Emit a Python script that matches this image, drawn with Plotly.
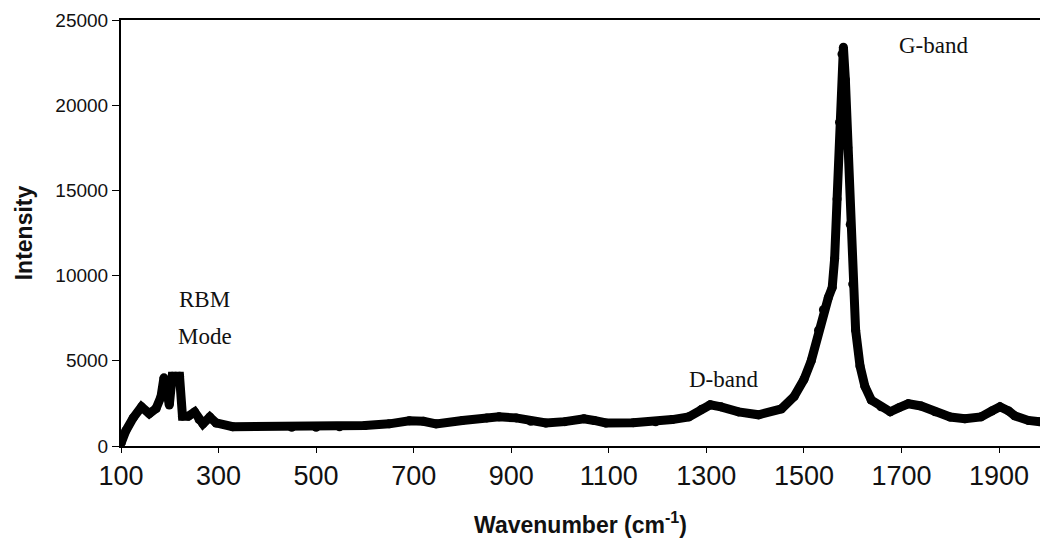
import plotly.graph_objects as go

wavenumber = [100, 110, 125, 142, 158, 172, 182, 188, 193, 199, 205, 212, 220, 226, 238,
              251, 260, 268, 282, 295, 329, 380, 450, 500, 548, 600, 650, 691, 720, 746,
              800, 850, 875, 910, 940, 971, 1010, 1049, 1070, 1094, 1150, 1196, 1230, 1264,
              1290, 1308, 1330, 1366, 1407, 1454, 1480, 1500, 1515, 1530, 1540, 1550, 1558,
              1563, 1568, 1573, 1578, 1581, 1585, 1590, 1595, 1600, 1606, 1615, 1625, 1638,
              1658, 1677, 1695, 1714, 1740, 1769, 1800, 1830, 1863, 1885, 1902, 1920, 1932,
              1960, 1984]
intensity = [150, 900, 1650, 2300, 1900, 2200, 2900, 4000, 3400, 2400, 4100, 4100, 4100, 1750,
             1750, 2000, 1550, 1300, 1700, 1350, 1130, 1150, 1100, 1100, 1130, 1200, 1300,
             1480, 1450, 1300, 1500, 1650, 1710, 1650, 1450, 1350, 1430, 1600, 1500, 1350,
             1370, 1420, 1550, 1710, 2150, 2420, 2300, 2000, 1830, 2180, 2900, 3900, 5000,
             6800, 8000, 8700, 9300, 11000, 14500, 19000, 23000, 23400, 21500, 17500, 13000,
             9500, 6800, 4700, 3500, 2700, 2300, 2010, 2250, 2480, 2350, 2010, 1700, 1600,
             1710, 2050, 2300, 2050, 1770, 1500, 1420]

x_ticks = [100, 300, 500, 700, 900, 1100, 1300, 1500, 1700, 1900]
y_ticks = [0, 5000, 10000, 15000, 20000, 25000]

fig = go.Figure()
fig.add_trace(go.Scatter(
    x=wavenumber, y=intensity, mode="lines+markers",
    line=dict(color="black", width=9),
    marker=dict(color="black", size=9, line=dict(width=0)),
    showlegend=False, hoverinfo="skip",
))

serif = "Liberation Serif, Times New Roman, serif"
fig.add_annotation(x=272, y=8600, text="RBM", showarrow=False,
                   font=dict(family=serif, size=23, color="#111"))
fig.add_annotation(x=272, y=6450, text="Mode", showarrow=False,
                   font=dict(family=serif, size=23, color="#111"))
fig.add_annotation(x=1336, y=3900, text="D-band", showarrow=False,
                   font=dict(family=serif, size=23, color="#111"))
fig.add_annotation(x=1765, y=23500, text="G-band", showarrow=False,
                   font=dict(family=serif, size=23, color="#111"))

fig.update_layout(
    width=1040, height=549,
    margin=dict(l=121, r=0, t=20, b=103),
    paper_bgcolor="white", plot_bgcolor="white",
    font=dict(family="Liberation Sans, Arial, sans-serif", color="#111"),
    xaxis=dict(
        range=[100, 1984], tickvals=x_ticks, ticktext=[str(v) for v in x_ticks],
        showgrid=False, zeroline=False, showline=True, linecolor="black", linewidth=2,
        mirror=True, ticks="outside", ticklen=5, tickcolor="black", tickwidth=1,
        tickfont=dict(size=27),
        title=dict(text="<b>Wavenumber (cm<sup>-1</sup>)</b>", font=dict(size=23), standoff=26),
    ),
    yaxis=dict(
        range=[0, 25000], tickvals=y_ticks, ticktext=[str(v) for v in y_ticks],
        showgrid=False, zeroline=False, showline=True, linecolor="black", linewidth=2,
        ticks="outside", ticklen=7, tickcolor="black", tickwidth=1,
        tickfont=dict(size=19),
        title=dict(text="<b>Intensity</b>", font=dict(size=23), standoff=16),
    ),
)

fig.write_html("out.html")
